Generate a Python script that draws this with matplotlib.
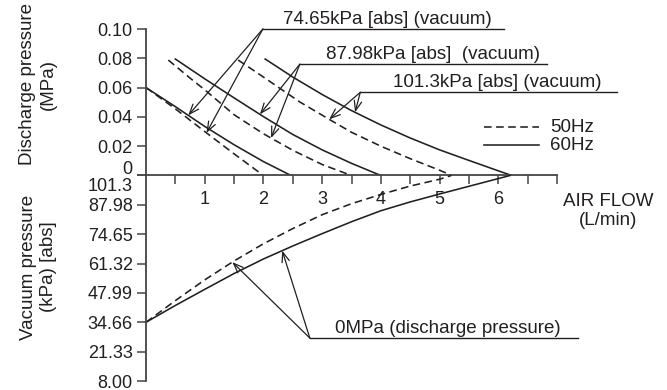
import matplotlib
matplotlib.use('Agg')
import matplotlib.pyplot as plt
from matplotlib.lines import Line2D
from matplotlib.transforms import ScaledTranslation
import numpy as np

plt.rcParams['font.family'] = ['Liberation Sans', 'DejaVu Sans']
plt.rcParams['lines.scale_dashes'] = False

# ---------------- data ----------------
# discharge pressure (MPa) vs air flow (L/min)
flow_74_60 = [0, 0.5, 1.0, 1.5, 2.0, 2.47]
dp_74_60 = [0.060, 0.047, 0.0335, 0.021, 0.0095, 0.0]
flow_74_50 = [0, 0.5, 1.0, 1.5, 2.0]
dp_74_50 = [0.060, 0.0455, 0.030, 0.0148, 0.0]
flow_88_60 = [0.5, 1.0, 1.5, 2.0, 2.5, 3.0, 3.5, 4.0]
dp_88_60 = [0.0795, 0.066, 0.053, 0.0402, 0.028, 0.0175, 0.0083, 0.0]
flow_88_50 = [0.38, 0.75, 1.0, 1.5, 2.0, 2.5, 3.0, 3.5]
dp_88_50 = [0.0788, 0.0665, 0.0585, 0.0415, 0.0285, 0.0172, 0.0075, 0.0]
flow_101_60 = [2.03, 2.5, 3.0, 3.5, 4.0, 4.5, 5.0, 5.5, 6.0, 6.23]
dp_101_60 = [0.0795, 0.0672, 0.0553, 0.0443, 0.0345, 0.0256, 0.0175, 0.0103, 0.0032, 0.0]
flow_101_50 = [1.57, 2.0, 2.62, 3.1, 3.5, 4.0, 4.5, 5.0, 5.21]
dp_101_50 = [0.0788, 0.0672, 0.0502, 0.0388, 0.0295, 0.0200, 0.0115, 0.0036, 0.0]

# vacuum pressure (kPa abs) vs air flow at 0 MPa discharge
flow_vac_60 = [0, 0.5, 1.0, 1.5, 2.0, 2.5, 3.0, 3.5, 4.0, 4.5, 5.0, 5.5, 6.0, 6.2]
vac_60 = [34.66, 42.3, 49.6, 56.8, 63.4, 69.3, 74.9, 80.3, 85.3, 89.3, 92.9, 96.4, 99.9, 101.3]
flow_vac_50 = [0, 0.5, 1.0, 1.5, 2.0, 2.5, 3.0, 3.5, 4.0, 4.5, 5.0, 5.2]
vac_50 = [34.66, 44.5, 53.9, 62.5, 70.3, 77.2, 83.5, 88.5, 92.7, 96.5, 99.6, 101.3]

x_ticks = [0.5, 1, 1.5, 2, 2.5, 3, 3.5, 4, 4.5, 5, 5.5, 6, 6.5, 7]
x_ticklabels = ['', '1', '', '2', '', '3', '', '4', '', '5', '', '6', '', '']
dp_ticks = [0, 0.02, 0.04, 0.06, 0.08, 0.10]
dp_ticklabels = ['0', '0.02', '0.04', '0.06', '0.08', '0.10']
vac_ticks = [8.00, 21.33, 34.66, 47.99, 61.32, 74.65, 87.98, 101.3]
vac_ticklabels = ['8.00', '21.33', '34.66', '47.99', '61.32', '74.65', '87.98', '101.3']

vac_labels = ['74.65kPa [abs] (vacuum)', '87.98kPa [abs]  (vacuum)', '101.3kPa [abs] (vacuum)']
bottom_label = '0MPa (discharge pressure)'

# ---------------- figure ----------------
W_PX, H_PX = 667, 390
fig = plt.figure(figsize=(W_PX / 100, H_PX / 100), dpi=100)
def fx(px):
    return px / W_PX
def fy(py):
    return 1 - py / H_PX

INK = '#231f20'
SPINE = '#444444'
FS = 13.5
FS_TICK = 13
LW = 1.15
DASH = (0, (5.5, 3.2))

x0, x1 = 146, 557
ax1 = fig.add_axes([fx(x0), fy(175.5), fx(x1) - fx(x0), fy(29) - fy(175.5)])
ax2 = fig.add_axes([fx(x0), fy(381), fx(x1) - fx(x0), fy(175.5) - fy(381)], sharex=ax1)
for ax in (ax1, ax2):
    ax.patch.set_alpha(0)
    for s in ('top', 'right'):
        ax.spines[s].set_visible(False)
    ax.spines['left'].set_color(SPINE)
    ax.spines['left'].set_linewidth(1.3)
ax2.spines['bottom'].set_visible(False)
ax1.spines['bottom'].set_color(SPINE)
ax1.spines['bottom'].set_linewidth(1.3)

# upper curves
ax1.plot(flow_74_60, dp_74_60, color=INK, lw=LW)
ax1.plot(flow_74_50, dp_74_50, color=INK, lw=LW, ls=DASH)
ax1.plot(flow_88_60, dp_88_60, color=INK, lw=LW)
ax1.plot(flow_88_50, dp_88_50, color=INK, lw=LW, ls=DASH)
ax1.plot(flow_101_60, dp_101_60, color=INK, lw=LW)
ax1.plot(flow_101_50, dp_101_50, color=INK, lw=LW, ls=DASH)

# lower curves
ax2.plot(flow_vac_60, vac_60, color=INK, lw=LW, clip_on=False)
ax2.plot(flow_vac_50, vac_50, color=INK, lw=LW, ls=DASH, clip_on=False)

ax1.set_xlim(0, 7)
ax1.set_ylim(0, 0.10)
ax2.set_ylim(8.00, 101.3)

ax1.set_xticks(x_ticks)
ax1.set_xticklabels(x_ticklabels)
ax1.set_yticks(dp_ticks)
ax1.set_yticklabels(dp_ticklabels)
ax2.set_yticks(vac_ticks)
ax2.set_yticklabels(vac_ticklabels)
ax1.tick_params(axis='x', direction='out', length=6.5, width=1.1, color=SPINE,
                pad=5, labelsize=FS_TICK, labelcolor=INK)
ax1.tick_params(axis='y', direction='out', length=6.5, width=1.1, color=SPINE,
                pad=3, labelsize=FS_TICK, labelcolor=INK)
ax2.tick_params(axis='y', direction='out', length=6.5, width=1.1, color=SPINE,
                pad=3, labelsize=FS_TICK, labelcolor=INK)
ax2.tick_params(axis='x', bottom=False, labelbottom=False)

lbl0 = ax1.get_yticklabels()[0]
lbl0.set_va('baseline')
lbl0.set_transform(lbl0.get_transform() + ScaledTranslation(0, 1.0 / 72, fig.dpi_scale_trans))
lbl_top = ax2.get_yticklabels()[-1]
lbl_top.set_va('top')
lbl_top.set_transform(lbl_top.get_transform() + ScaledTranslation(0, -2.0 / 72, fig.dpi_scale_trans))

# ---------------- callouts ----------------
ARROW = dict(arrowstyle='->,head_length=0.7,head_width=0.27', lw=0.9, color=INK,
             shrinkA=0, shrinkB=0, mutation_scale=10)

def callout(ax, label, start, end_x, text_x, tips):
    sx, sy = start
    ax.plot([sx, end_x], [sy, sy], color=INK, lw=1.0, clip_on=False)
    ax.annotate(label, xy=(text_x, sy), xytext=(0, 3.5), textcoords='offset points',
                va='baseline', ha='left', fontsize=FS, color=INK, annotation_clip=False)
    for (tx, ty) in tips:
        ax.annotate('', xy=(tx, ty), xytext=(sx, sy), arrowprops=ARROW,
                    annotation_clip=False)

callout(ax1, vac_labels[0], (1.99, 0.100), 6.10, 2.33,
        [(0.72, np.interp(0.72, flow_74_60, dp_74_60)),
         (1.03, np.interp(1.03, flow_74_50, dp_74_50))])
callout(ax1, vac_labels[1], (2.62, 0.076), 6.83, 3.07,
        [(1.94, np.interp(1.94, flow_88_60, dp_88_60)),
         (2.13, np.interp(2.13, flow_88_50, dp_88_50))])
callout(ax1, vac_labels[2], (3.65, 0.0568), 8.02, 4.20,
        [(3.56, np.interp(3.56, flow_101_60, dp_101_60)),
         (3.12, np.interp(3.12, flow_101_50, dp_101_50))])
callout(ax2, bottom_label, (2.79, 27.5), 7.36, 3.22,
        [(1.47, np.interp(1.47, flow_vac_50, vac_50)),
         (2.32, np.interp(2.32, flow_vac_60, vac_60))])

# ---------------- legend ----------------
fig.add_artist(Line2D([fx(484), fx(539)], [fy(127), fy(127)], transform=fig.transFigure,
                      color=INK, lw=LW, ls=DASH))
fig.add_artist(Line2D([fx(484), fx(539)], [fy(145), fy(145)], transform=fig.transFigure,
                      color=INK, lw=LW))
fig.text(fx(550), fy(127), '50Hz', fontsize=FS, color=INK, va='center', ha='left')
fig.text(fx(550), fy(145), '60Hz', fontsize=FS, color=INK, va='center', ha='left')

# ---------------- axis titles ----------------
fig.text(fx(37.5), fy(84), 'Discharge pressure\n(MPa)', rotation=90, ha='center', va='center',
         multialignment='center', fontsize=FS, color=INK, linespacing=1.3)
fig.text(fx(38.5), fy(267), 'Vacuum pressure\n(kPa) [abs]', rotation=90, ha='center', va='center',
         multialignment='center', fontsize=FS, color=INK, linespacing=1.3)
fig.text(fx(608), fy(211), 'AIR FLOW\n(L/min)', ha='center', va='center',
         multialignment='center', fontsize=FS, color=INK, linespacing=1.15)

fig.savefig('out.png', dpi=100)
